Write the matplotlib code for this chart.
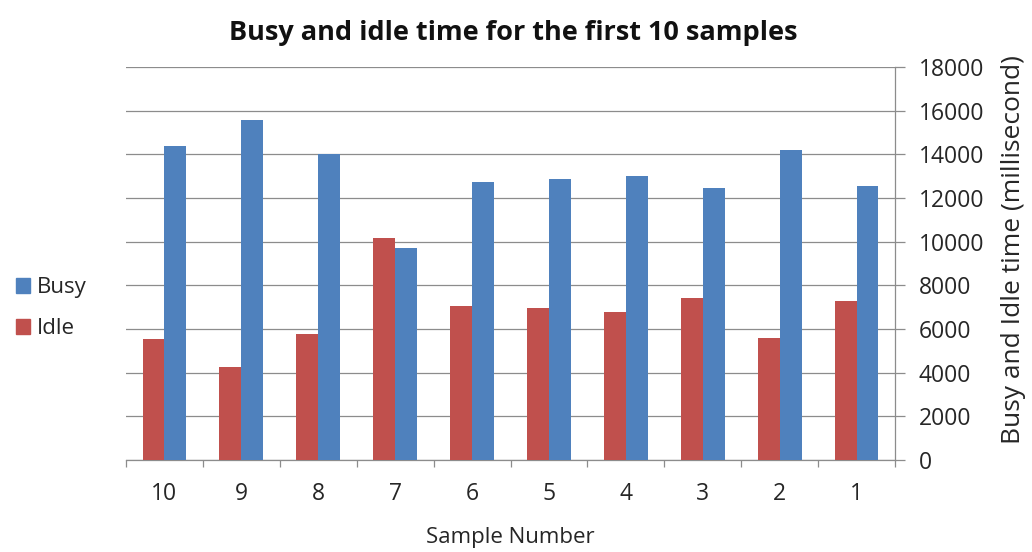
import numpy as np
import matplotlib.pyplot as plt
from matplotlib.patches import Patch

plt.rcParams['font.family'] = ['Open Sans', 'DejaVu Sans']

# Amostras 1..10 (o eixo x é desenhado invertido, de 10 para 1)
amostras = [1, 2, 3, 4, 5, 6, 7, 8, 9, 10]
busy = [12560, 14210, 12470, 13020, 12850, 12730, 9710, 14010, 15580, 14390]
idle = [7260, 5610, 7440, 6800, 6980, 7070, 10180, 5790, 4240, 5520]
y_ticks = [0, 2000, 4000, 6000, 8000, 10000, 12000, 14000, 16000, 18000]

cor_busy = '#4F81BD'
cor_idle = '#C0504D'
cor_grade = '#8C8C8C'
cor_texto = '#262626'

fig = plt.figure(figsize=(10.32, 5.52), dpi=100)
W, H = 1032, 552
ax = fig.add_axes([126 / W, 1 - 460 / H, (895 - 126) / W, (460 - 67) / H])

x = np.array(amostras)
larg = 0.285
# eixo invertido: x + larg/2 fica à esquerda
ax.bar(x + larg / 2, idle, width=larg, color=cor_idle, zorder=3)
ax.bar(x - larg / 2, busy, width=larg, color=cor_busy, zorder=3)

ax.set_xlim(10.5, 0.5)
ax.set_ylim(0, 18000)
ax.set_yticks(y_ticks)
ax.set_xticks(x)
ax.set_xticklabels([str(a) for a in amostras])
ax.set_xticks(np.arange(0.5, 11, 1), minor=True)

# eixo y à direita
ax.yaxis.tick_right()
ax.yaxis.set_label_position('right')
ax.grid(axis='y', color=cor_grade, linewidth=0.9, zorder=0)

for lado in ['top', 'left']:
    ax.spines[lado].set_visible(False)
for lado in ['right', 'bottom']:
    ax.spines[lado].set_color(cor_grade)
    ax.spines[lado].set_linewidth(0.9)

ax.tick_params(axis='y', which='major', length=7, width=0.9, color=cor_grade,
               pad=10, labelsize=16.5, labelcolor=cor_texto)
ax.tick_params(axis='x', which='major', length=0, pad=16, labelsize=16.5,
               labelcolor=cor_texto)
ax.tick_params(axis='x', which='minor', length=5, width=0.9, color=cor_grade)

ax.set_ylabel('Busy and Idle time (millisecond)', fontsize=19, color=cor_texto)
ax.yaxis.label.set_va('center')
ax.yaxis.set_label_coords((1014 - 126) / (895 - 126), (460 - 250) / (460 - 67))
ax.set_xlabel('Sample Number', fontsize=16, color=cor_texto)
ax.xaxis.label.set_va('center')
ax.xaxis.set_label_coords(0.5, -(537 - 460) / (460 - 67))

fig.text(513 / W, 1 - 33 / H, 'Busy and idle time for the first 10 samples',
         ha='center', va='center', fontsize=19.5, fontweight='bold', color='#111111')

handles = [Patch(color=cor_busy, label='Busy'), Patch(color=cor_idle, label='Idle')]
fig.legend(handles=handles, loc='center left', bbox_to_anchor=(-0.004, 1 - 308 / H),
           frameon=False, fontsize=16, handlelength=0.65, handleheight=0.65,
           handletextpad=0.3, labelspacing=0.9, labelcolor=cor_texto)

fig.savefig('out.png', dpi=100)
